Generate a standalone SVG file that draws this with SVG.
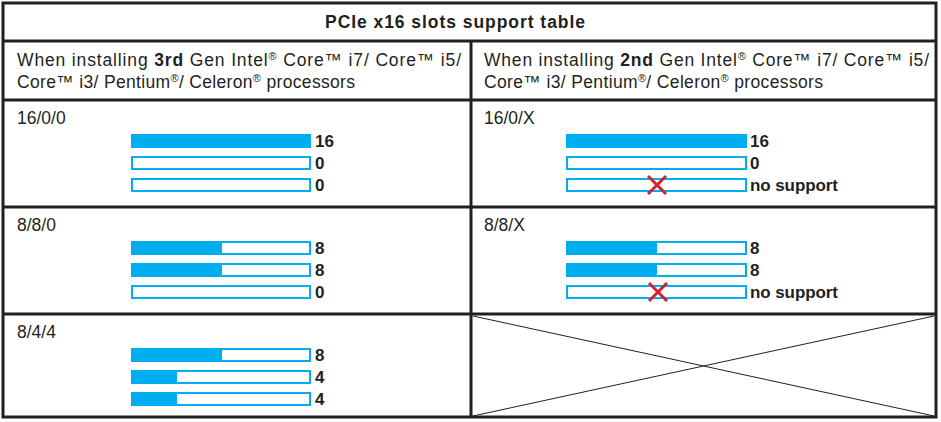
<svg xmlns="http://www.w3.org/2000/svg" width="941" height="422" viewBox="0 0 941 422">
<style>
text{font-family:"Liberation Sans",Arial,sans-serif;font-size:17.5px;fill:#231f20}
.v{font-weight:bold;font-size:17px}
.f{fill:#00aeef}
.e{fill:#fff;stroke:#00aeef;stroke-width:2}
.g{stroke:#231f20;stroke-width:3;fill:none}
.x{stroke:#d2232a;stroke-width:3}
</style>
<rect width="941" height="422" fill="#fff"/>
<g id="grid">
<rect class="g" x="3" y="3" width="933" height="414"/>
<line class="g" x1="3" y1="41" x2="936" y2="41"/>
<line class="g" x1="3" y1="100" x2="936" y2="100"/>
<line class="g" x1="3" y1="207" x2="936" y2="207"/>
<line class="g" x1="3" y1="314" x2="936" y2="314"/>
<line class="g" x1="471" y1="41" x2="471" y2="417"/>
<line x1="473" y1="316" x2="934" y2="416" stroke="#231f20" stroke-width="1"/>
<line x1="473" y1="416" x2="934" y2="316" stroke="#231f20" stroke-width="1"/>
</g>
<g id="title"><text x="325" y="28" font-weight="bold" font-size="17" textLength="260" lengthAdjust="spacing">PCIe x16 slots support table</text></g>
<g id="hdr-left">
<text x="17" y="66" textLength="444" lengthAdjust="spacing">When installing <tspan font-weight="bold">3rd</tspan> Gen Intel<tspan font-size="11" dy="-6">®</tspan><tspan dy="6"> Core™ i7/ Core™ i5/</tspan></text>
<text x="17" y="88" textLength="338" lengthAdjust="spacing">Core™ i3/ Pentium<tspan font-size="11" dy="-6">®</tspan><tspan dy="6">/ Celeron</tspan><tspan font-size="11" dy="-6">®</tspan><tspan dy="6"> processors</tspan></text>
</g>
<g id="hdr-right">
<text x="484" y="66" textLength="445" lengthAdjust="spacing">When installing <tspan font-weight="bold">2nd</tspan> Gen Intel<tspan font-size="11" dy="-6">®</tspan><tspan dy="6"> Core™ i7/ Core™ i5/</tspan></text>
<text x="484" y="88" textLength="339" lengthAdjust="spacing">Core™ i3/ Pentium<tspan font-size="11" dy="-6">®</tspan><tspan dy="6">/ Celeron</tspan><tspan font-size="11" dy="-6">®</tspan><tspan dy="6"> processors</tspan></text>
</g>
<g id="r1l">
<text x="17" y="124">16/0/0</text>
<rect class="f" x="131" y="134" width="180" height="14"/>
<rect class="e" x="132" y="157" width="178" height="12"/>
<rect class="e" x="132" y="179" width="178" height="12"/>
<text class="v" x="315" y="147">16</text><text class="v" x="315" y="169">0</text><text class="v" x="315" y="191">0</text>
</g>
<g id="r2l">
<text x="17" y="231">8/8/0</text>
<rect class="e" x="132" y="242" width="178" height="12"/><rect class="f" x="131" y="241" width="91" height="14"/>
<rect class="e" x="132" y="264" width="178" height="12"/><rect class="f" x="131" y="263" width="91" height="14"/>
<rect class="e" x="132" y="286" width="178" height="12"/>
<text class="v" x="315" y="254">8</text><text class="v" x="315" y="276">8</text><text class="v" x="315" y="298">0</text>
</g>
<g id="r3l">
<text x="17" y="338">8/4/4</text>
<rect class="e" x="132" y="349" width="178" height="12"/><rect class="f" x="131" y="348" width="91" height="14"/>
<rect class="e" x="132" y="371" width="178" height="12"/><rect class="f" x="131" y="370" width="46" height="14"/>
<rect class="e" x="132" y="393" width="178" height="12"/><rect class="f" x="131" y="392" width="46" height="14"/>
<text class="v" x="315" y="361">8</text><text class="v" x="315" y="383">4</text><text class="v" x="315" y="405">4</text>
</g>
<g id="r1r">
<text x="484" y="124">16/0/X</text>
<rect class="f" x="566" y="134" width="181" height="14"/>
<rect class="e" x="567" y="157" width="179" height="12"/>
<rect class="e" x="567" y="179" width="179" height="12"/>
<line class="x" x1="648" y1="176" x2="666" y2="194"/><line class="x" x1="666" y1="176" x2="648" y2="194"/>
<text class="v" x="750" y="147">16</text><text class="v" x="750" y="169">0</text><text class="v" x="750" y="191" textLength="88">no support</text>
</g>
<g id="r2r">
<text x="484" y="231">8/8/X</text>
<rect class="e" x="567" y="242" width="179" height="12"/><rect class="f" x="566" y="241" width="91" height="14"/>
<rect class="e" x="567" y="264" width="179" height="12"/><rect class="f" x="566" y="263" width="91" height="14"/>
<rect class="e" x="567" y="286" width="179" height="12"/>
<line class="x" x1="649" y1="283" x2="667" y2="301"/><line class="x" x1="667" y1="283" x2="649" y2="301"/>
<text class="v" x="750" y="254">8</text><text class="v" x="750" y="276">8</text><text class="v" x="750" y="298" textLength="88">no support</text>
</g>
</svg>
